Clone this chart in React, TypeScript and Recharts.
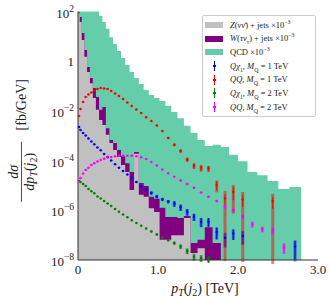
import React from 'react'
import { ComposedChart, Area, Scatter, ErrorBar, XAxis, YAxis, Legend } from 'recharts'

const serif = '"Liberation Serif", "DejaVu Serif", serif'

// bin centres in TeV (bins get wider towards high pT)
const binCentres = [
  0.012, 0.031, 0.063, 0.096, 0.131, 0.167, 0.204, 0.243, 0.284, 0.326,
  0.37, 0.415, 0.463, 0.512, 0.563, 0.617, 0.672, 0.73, 0.79, 0.852,
  0.917, 0.985, 1.055, 1.128, 1.204, 1.283, 1.365, 1.45, 1.539, 1.631,
  1.734, 1.838, 1.941, 2.059, 2.179, 2.304, 2.434, 2.575, 2.713,
]
const histStart = 0
const histEnd = 2.79

// backgrounds, fb/GeV (x 10^-3)
const zNuNu = [
  87, 38, 7.1, 1.5, 0.37, 0.13, 0.033, 0.011, 0.0043, 0.0027,
  0.0011, 5.1e-4, 2.7e-4, 1.4e-4, 6.6e-5, 3.5e-5, 6.6e-6, 1.9e-4, 4.2e-6, 3.5e-6,
  1.2e-6, 8.5e-7, 6.5e-8, 6.5e-8, 1.0e-7, 1.0e-7, 4.9e-7, 1.9e-8, 3.0e-8, 1e-9,
  null, null, null, null, null, null, null, null, null,
]
const wTauNu = [
  95, 60, 13.5, 2.8, 0.59, 0.21, 0.083, 0.036, 0.011, 0.0145,
  0.002, 6.8e-4, 5.1e-4, 2.7e-4, 1.5e-4, 7.9e-5, 3.5e-5, 2.2e-4, 1.26e-5, 9.5e-6,
  3.5e-6, 2.9e-6, 1.26e-6, 5.4e-7, 5.4e-7, 4.9e-7, 5.9e-7, 4.8e-8, 6.5e-8, 2.1e-7,
  4.8e-8, 1e-9, null, null, null, null, null, null, null,
]
const qcd = [
  3000, 2200, 1600, 1100, 800, 550, 350, 130, 66, 38,
  20, 9.3, 4.9, 2.6, 1.35, 0.71, 0.37, 0.21, 0.12, 0.069,
  0.044, 0.033, 0.025, 0.016, 0.0091, 0.0051, 0.0025, 0.0013, 6.8e-4, 3.9e-4,
  4.3e-4, 3.5e-4, 1.7e-4, 9.5e-5, 3.5e-5, 2.6e-5, 1.5e-5, 7.2e-6, 8.7e-6,
]

// signals: value per bin, relative stat error (thin) and total error (thick band)
const qChi1M1 = [
  2.24e-3, 1.7e-3, 1.29e-3, 1.02e-3, 7.8e-4, 5.9e-4, 4.5e-4, 3.4e-4, 2.6e-4, 1.86e-4,
  1.38e-4, 1.0e-4, 7.2e-5, 5.2e-5, 3.8e-5, 2.75e-5, 2.0e-5, 1.38e-5, 9.1e-6, 6.9e-6,
  5.0e-6, 3.6e-6, 2.75e-6, 2.24e-6, 1.86e-6, 1.32e-6, 8.7e-7, 5.5e-7, 3.5e-7, 3.5e-7,
  1.35e-7, 7.8e-8, 1.17e-7, 9.3e-8, null, null, null, null, 3.5e-8,
]
const qChi1M1Err = [
  0.03, 0.03, 0.03, 0.03, 0.03, 0.03, 0.03, 0.03, 0.03, 0.03,
  0.03, 0.03, 0.03, 0.03, 0.03, 0.03, 0.08, 0.08, 0.08, 0.08,
  0.15, 0.15, 0.15, 0.15, 0.25, 0.28, 0.3, 0.32, 0.4, 0.38,
  0.5, 0.55, 0.45, 0.55, 0, 0, 0, 0, 0.7,
]
const qChi1M1Tot = [
  0.03, 0.03, 0.03, 0.03, 0.03, 0.03, 0.03, 0.03, 0.03, 0.03,
  0.03, 0.03, 0.03, 0.03, 0.03, 0.03, 0.08, 0.08, 0.08, 0.08,
  0.15, 0.15, 0.15, 0.15, 0.25, 0.28, 0.3, 0.32, 0.4, 0.38,
  0.5, 0.6, 0.45, 0.55, 0, 0, 0, 0, 0.75,
]
const qqM1 = [
  6.3e-3, 0.012, 0.023, 0.036, 0.046, 0.055, 0.066, 0.076, 0.083, 0.08,
  0.076, 0.063, 0.05, 0.04, 0.03, 0.022, 0.0158, 0.0115, 8.3e-3, 5.6e-3,
  3.9e-3, 2.6e-3, 1.55e-3, 8.1e-4, 4.3e-4, 2.45e-4, 1.1e-4, 6.2e-5, 5.1e-5, 4.8e-5,
  1.05e-5, 3.0e-6, 5.6e-6, 2.75e-6, null, null, 2.3e-6, null, null,
]
const qqM1Err = [
  0.03, 0.03, 0.03, 0.03, 0.03, 0.03, 0.03, 0.03, 0.03, 0.03,
  0.03, 0.03, 0.03, 0.03, 0.03, 0.03, 0.03, 0.03, 0.03, 0.03,
  0.03, 0.05, 0.06, 0.08, 0.12, 0.15, 0.18, 0.25, 0.28, 0.25,
  0.4, 0.45, 0.55, 0.5, 0, 0, 0.5, 0, 0,
]
const qqM1Tot = [
  0.03, 0.03, 0.03, 0.03, 0.03, 0.03, 0.03, 0.03, 0.03, 0.03,
  0.03, 0.03, 0.03, 0.03, 0.03, 0.03, 0.03, 0.03, 0.03, 0.03,
  0.03, 0.05, 0.06, 0.08, 0.12, 0.15, 0.18, 0.25, 0.28, 0.25,
  0.5, 0.997, 0.87, 0.997, 0, 0, 0.997, 0, 0,
]
const qChi1M2 = [
  1.5e-5, 1.38e-5, 1.15e-5, 9.5e-6, 7.2e-6, 5.8e-6, 4.8e-6, 3.6e-6, 3.0e-6, 2.35e-6,
  1.86e-6, 1.48e-6, 1.12e-6, 8.7e-7, 6.8e-7, 5.2e-7, 4.0e-7, 3.1e-7, 2.4e-7, 1.86e-7,
  1.41e-7, 1.07e-7, 8.1e-8, 6.2e-8, 4.8e-8, 3.5e-8, 2.3e-8, 1.35e-8, 1.2e-8, 1.1e-8,
  null, null, null, null, null, null, null, null, null,
]
const qChi1M2Err = [
  0.03, 0.03, 0.03, 0.03, 0.03, 0.03, 0.03, 0.03, 0.03, 0.03,
  0.03, 0.03, 0.03, 0.03, 0.03, 0.03, 0.03, 0.03, 0.03, 0.03,
  0.08, 0.08, 0.08, 0.08, 0.15, 0.2, 0.25, 0.3, 0.3, 0.3,
  0, 0, 0, 0, 0, 0, 0, 0, 0,
]
const qqM2 = [
  1.38e-5, 2.0e-5, 3.0e-5, 4.2e-5, 5.2e-5, 6.6e-5, 7.9e-5, 9.1e-5, 1.05e-4, 1.2e-4,
  1.32e-4, 1.41e-4, 1.51e-4, 1.55e-4, 1.58e-4, 1.58e-4, 1.56e-4, 1.5e-4, 1.35e-4, 1.15e-4,
  8.7e-5, 6.3e-5, 4.4e-5, 3.1e-5, 2.24e-5, 1.58e-5, 1.15e-5, 8.1e-6, 5.2e-6, 3.5e-6,
  2.35e-6, 1.38e-6, 1.0e-6, 5.5e-7, 2.75e-7, 1.74e-7, 1.51e-7, 3.2e-8, null,
]
const qqM2Err = [
  0.03, 0.03, 0.03, 0.03, 0.03, 0.03, 0.03, 0.03, 0.03, 0.03,
  0.03, 0.03, 0.03, 0.03, 0.03, 0.03, 0.03, 0.03, 0.03, 0.03,
  0.03, 0.03, 0.03, 0.03, 0.03, 0.06, 0.06, 0.06, 0.06, 0.06,
  0.1, 0.15, 0.15, 0.2, 0.25, 0.25, 0.3, 0.45, 0,
]

const yTickExps = [-8, -6, -4, -2, 0, 2]
const yTicks = yTickExps.map((e) => 10 ** e)
const xTicks = [0, 1, 2, 3]
const xTickLabels = ['0', '1.0', '2.0', '3.0']

const yMinor: number[] = []
for (let e = -8; e < 2; e++) {
  for (let s = 1; s <= 9; s++) {
    if (s === 1 && e % 2 === 0) continue
    yMinor.push(s * 10 ** e)
  }
}

// histogram table: outer bin edges + bin centres
const histX = [histStart, ...binCentres, histEnd]
const histRows = histX.map((pT, i) => {
  const k = Math.min(Math.max(i - 1, 0), binCentres.length - 1)
  return { pT, qcd: qcd[k], w: wTauNu[k], z: zNuNu[k] }
})

const toPoints = (vals: (number | null)[], stat: number[], tot: number[]) =>
  binCentres
    .map((pT, k) => {
      const v = vals[k]
      return { pT, v, err: v == null ? 0 : v * stat[k], tot: v == null ? 0 : v * tot[k] }
    })
    .filter((p) => p.v != null)

const signals = [
  { key: 'qchi1m1', color: '#0000ff', points: toPoints(qChi1M1, qChi1M1Err, qChi1M1Tot) },
  { key: 'qqm1', color: '#ff0000', points: toPoints(qqM1, qqM1Err, qqM1Tot) },
  { key: 'qchi1m2', color: '#008000', points: toPoints(qChi1M2, qChi1M2Err, qChi1M2Err) },
  { key: 'qqm2', color: '#ff00ff', points: toPoints(qqM2, qqM2Err, qqM2Err) },
]

const sup = (t: string) => <sup style={{ fontSize: '70%', lineHeight: 0 }}>{t}</sup>
const sub = (t: string) => <sub style={{ fontSize: '70%', lineHeight: 0 }}>{t}</sub>

const legendRows = [
  { kind: 'patch', color: '#c0c0c0', label: <><i>Z</i>(<i>{'νν\u0304'}</i>) + jets ×10{sup('−3')}</> },
  { kind: 'patch', color: '#800080', label: <><i>W</i>(<i>τν</i>{sub('τ')}) + jets ×10{sup('−3')}</> },
  { kind: 'patch', color: '#66cdaa', label: <>QCD ×10{sup('−3')}</> },
  { kind: 'bar', color: '#0000ff', label: <><i>Qχ</i>{sub('1')}, <i>M</i>{sub('Q')} = 1 TeV</> },
  { kind: 'bar', color: '#ff0000', label: <><i>QQ</i>, <i>M</i>{sub('Q')} = 1 TeV</> },
  { kind: 'bar', color: '#008000', label: <><i>Qχ</i>{sub('1')}, <i>M</i>{sub('Q')} = 2 TeV</> },
  { kind: 'bar', color: '#ff00ff', label: <><i>QQ</i>, <i>M</i>{sub('Q')} = 2 TeV</> },
]

function LegendBox() {
  return (
    <div style={{ boxSizing: 'border-box', width: 114, border: '1px solid #cccccc', borderRadius: 2, background: 'rgba(255,255,255,0.85)', padding: '2px 2px', fontFamily: serif, fontSize: 8.5, color: '#222', lineHeight: 1 }}>
      {legendRows.map((r, i) => (
        <div key={i} style={{ display: 'flex', alignItems: 'center', height: 13.7, whiteSpace: 'nowrap' }}>
          <div style={{ width: 18, height: 14, position: 'relative', flex: 'none', marginRight: 7 }}>
            {r.kind === 'patch' ? (
              <div style={{ position: 'absolute', left: 0, top: 4, width: 18, height: 6, background: r.color }} />
            ) : (
              <>
                <div style={{ position: 'absolute', left: 8.5, top: 2, width: 1, height: 10, background: r.color }} />
                <div style={{ position: 'absolute', left: 7.5, top: 6, width: 3, height: 2, background: r.color }} />
              </>
            )}
          </div>
          <span>{r.label}</span>
        </div>
      ))}
    </div>
  )
}

function YTick(props: any) {
  const { x, y, payload } = props
  const e = Math.round(Math.log10(payload.value))
  if (e === 0) {
    return <text x={x} y={y + 4.5} textAnchor="end" fontFamily={serif} fontSize={13} fill="#222">1</text>
  }
  return (
    <text x={x} y={y + 6} textAnchor="end" fontFamily={serif} fontSize={13} fill="#222">
      10<tspan dy={-6} fontSize={9.5}>{e < 0 ? '\u2212' + -e : String(e)}</tspan>
    </text>
  )
}

function XLabel(props: any) {
  const vb = props.viewBox ?? { x: 78, y: 260, width: 240, height: 42 }
  return (
    <text x={vb.x + vb.width / 2 + 7} y={vb.y + 33} textAnchor="middle" fontFamily={serif} fontSize={14} fill="#222">
      <tspan fontStyle="italic">p</tspan>
      <tspan fontSize={10} dy={3} fontStyle="italic">T</tspan>
      <tspan dy={-3}>(</tspan>
      <tspan fontStyle="italic">j</tspan>
      <tspan fontSize={10} dy={3}>2</tspan>
      <tspan dy={-3}>) [TeV]</tspan>
    </text>
  )
}

function YLabel(props: any) {
  const vb = props.viewBox ?? { x: 0, y: 11.5, width: 78, height: 248.5 }
  const cx = vb.x + 21.5
  const cy = vb.y + vb.height / 2 + 36
  return (
    <g transform={`translate(${cx},${cy}) rotate(-90)`} fontFamily={serif} fill="#222">
      <text x={0} y={-3.5} textAnchor="middle" fontSize={14} fontStyle="italic">dσ</text>
      <line x1={-30} x2={30} y1={0} y2={0} stroke="#222" strokeWidth={0.8} />
      <text x={0} y={12} textAnchor="middle" fontSize={14}>
        <tspan fontStyle="italic">dp</tspan>
        <tspan fontSize={10} dy={3} fontStyle="italic">T</tspan>
        <tspan dy={-3}>(</tspan>
        <tspan fontStyle="italic">j</tspan>
        <tspan fontSize={10} dy={3}>2</tspan>
        <tspan dy={-3}>)</tspan>
      </text>
      <text x={67} y={4.5} textAnchor="middle" fontSize={14}>[fb/GeV]</text>
    </g>
  )
}

const dotShape = (color: string) => (p: any) => <circle cx={p.cx} cy={p.cy} r={1.25} fill={color} />

export default function App() {
  return (
    <div style={{ position: 'absolute', left: 0, top: 0, width: 332, height: 302, background: '#fff' }}>
      <ComposedChart width={332} height={302} data={histRows} margin={{ top: 11.5, right: 14, bottom: 0, left: 0 }}>
        <Area type="step" dataKey="qcd" fill="#66cdaa" fillOpacity={1} stroke="none" baseValue={1e-8} dot={false} activeDot={false} isAnimationActive={false} />
        <Area type="step" dataKey="w" fill="#800080" fillOpacity={1} stroke="none" baseValue={1e-8} dot={false} activeDot={false} isAnimationActive={false} />
        <Area type="step" dataKey="z" fill="#c0c0c0" fillOpacity={1} stroke="none" baseValue={1e-8} dot={false} activeDot={false} isAnimationActive={false} />
        {signals.map((s) => (
          <Scatter key={s.key} data={s.points} dataKey="v" fill={s.color} shape={dotShape(s.color)} isAnimationActive={false}>
            <ErrorBar dataKey="tot" direction="y" width={0} stroke={s.color} strokeOpacity={0.5} strokeWidth={3} isAnimationActive={false} />
            <ErrorBar dataKey="err" direction="y" width={0} stroke={s.color} strokeWidth={1} isAnimationActive={false} />
          </Scatter>
        ))}

        <XAxis dataKey="pT" type="number" domain={[0, 3]} allowDataOverflow ticks={xTicks} interval={0}
          tickFormatter={(v) => xTickLabels[xTicks.indexOf(v)]} height={42} tickSize={0} tickMargin={5} tickLine={false}
          stroke="#333" tick={{ fontFamily: serif, fontSize: 13, fill: '#222' }} label={<XLabel />} />
        <XAxis xAxisId="btick" type="number" domain={[0, 3]} allowDataOverflow ticks={xTicks} interval={0}
          mirror height={0} tickSize={4} tick={false} axisLine={false} stroke="#333" />
        <XAxis xAxisId="top" orientation="top" type="number" domain={[0, 3]} allowDataOverflow ticks={xTicks} interval={0}
          mirror height={0} tickSize={4} tick={false} stroke="#333" />

        <YAxis scale="log" domain={[1e-8, 100]} allowDataOverflow ticks={yTicks} interval={0} width={78}
          tickSize={0} tickMargin={4} tickLine={false} stroke="#333" tick={(p: any) => <YTick {...p} />} label={<YLabel />} />
        <YAxis yAxisId="ltick" scale="log" domain={[1e-8, 100]} allowDataOverflow ticks={yTicks} interval={0}
          mirror width={0} tickSize={4} tick={false} axisLine={false} stroke="#333" />
        <YAxis yAxisId="lminor" scale="log" domain={[1e-8, 100]} allowDataOverflow ticks={yMinor} interval={0}
          mirror width={0} tickSize={2} tick={false} axisLine={false} stroke="#333" />
        <YAxis yAxisId="rtick" orientation="right" scale="log" domain={[1e-8, 100]} allowDataOverflow ticks={yTicks} interval={0}
          mirror width={0} tickSize={4} tick={false} stroke="#333" />
        <YAxis yAxisId="rminor" orientation="right" scale="log" domain={[1e-8, 100]} allowDataOverflow ticks={yMinor} interval={0}
          mirror width={0} tickSize={2} tick={false} axisLine={false} stroke="#333" />

        <Legend layout="vertical" align="center" verticalAlign="middle" content={() => <LegendBox />}
          wrapperStyle={{ left: 202, top: 15, width: 114 }} />
      </ComposedChart>
    </div>
  )
}
